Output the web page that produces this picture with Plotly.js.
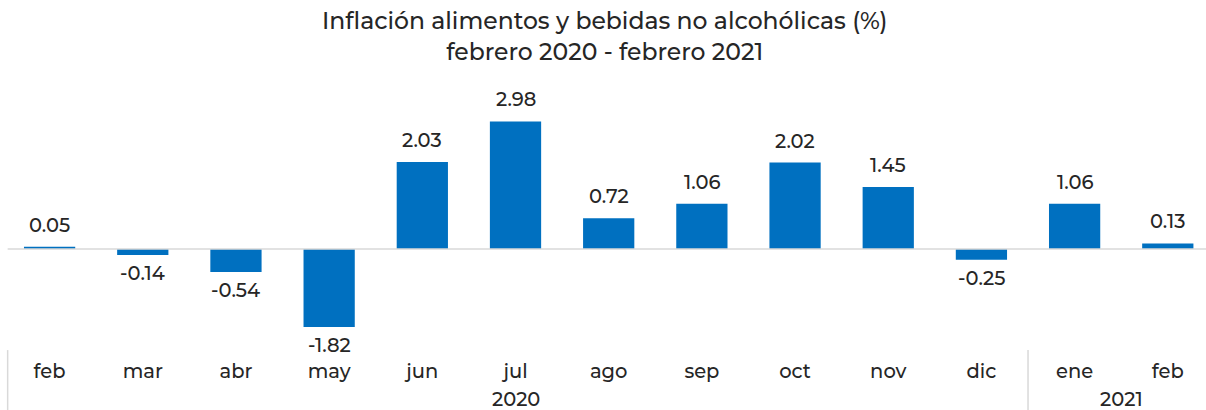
<!DOCTYPE html>
<html>
<head>
<meta charset="utf-8">
<script src="https://cdn.plot.ly/plotly-3.0.1.min.js"></script>
<style>html,body{margin:0;padding:0;background:#fff;}#chart{width:1206px;height:410px;}</style>
</head>
<body>
<div id="chart"></div>
<script>
const months = ["feb","mar","abr","may","jun","jul","ago","sep","oct","nov","dic","ene","feb"];
const values = [0.05,-0.14,-0.54,-1.82,2.03,2.98,0.72,1.06,2.02,1.45,-0.25,1.06,0.13];
const years = ["2020","2021"];
const yearCenters = [5, 11.5];
const yearBoundaries = [-0.45, 10.5];

const idx = months.map((m,i)=>i);
const font = "Montserrat, 'DejaVu Sans', sans-serif";
const txtColor = "#262626";
const fs = 19.5;

const trace = {
  type: "bar",
  x: idx,
  y: values,
  width: 0.55,
  marker: {color: "#0070C0"},
  hoverinfo: "skip"
};

const shapes = yearBoundaries.map(b=>({
  type:"line", xref:"x", yref:"paper", x0:b, x1:b, y0:-0.02, y1:-0.3,
  line:{color:"#d9d9d9", width:1.5}
}));
shapes.push({type:"line", xref:"x", yref:"y", x0:-0.45, x1:12.5, y0:0, y1:0, line:{color:"#d9d9d9", width:1.5}});

const annotations = years.map((y,i)=>({
  text: y, x: yearCenters[i], xref:"x", y: -0.212, yref:"paper",
  yanchor:"middle", xanchor:"center", showarrow:false, borderpad:0,
  font:{family:font, size:fs, color:txtColor, weight:500}
}));

values.forEach((v,i)=>{
  annotations.push({
    text: v.toFixed(2), x: i, xref:"x", y: v, yref:"y",
    xanchor:"center", yanchor: v>=0 ? "bottom" : "top",
    yshift: v>=0 ? 8 : -4, showarrow:false,
    font:{family:font, size:fs, color:txtColor, weight:500}
  });
});

annotations.push({
  text: "Inflación alimentos y bebidas no alcohólicas (%)<br>febrero 2020 - febrero 2021",
  x: 0.5, xref:"paper", y: 1.212, yref:"paper", xanchor:"center", yanchor:"middle",
  showarrow:false,
  font:{family:font, size:23.5, color:txtColor, weight:500}
});

const layout = {
  width: 1206, height: 410,
  margin: {l: 3, r: 0, t: 90, b: 65},
  paper_bgcolor: "#fff", plot_bgcolor: "#fff",
  showlegend: false,
  xaxis: {
    range: [-0.5, 12.41],
    tickvals: idx, ticktext: months,
    showgrid: false, zeroline: false, showline: false, ticks: "",
    ticklabelstandoff: 12,
    tickfont: {family: font, size: fs, color: txtColor, weight: 500},
    fixedrange: true
  },
  yaxis: {
    range: [-2.243, 3.715],
    showgrid: false, zeroline: false, showline: false, showticklabels: false, ticks: "",
    fixedrange: true
  },
  shapes: shapes,
  annotations: annotations
};

Plotly.newPlot("chart", [trace], layout, {displayModeBar: false, staticPlot: true});
</script>
</body>
</html>
